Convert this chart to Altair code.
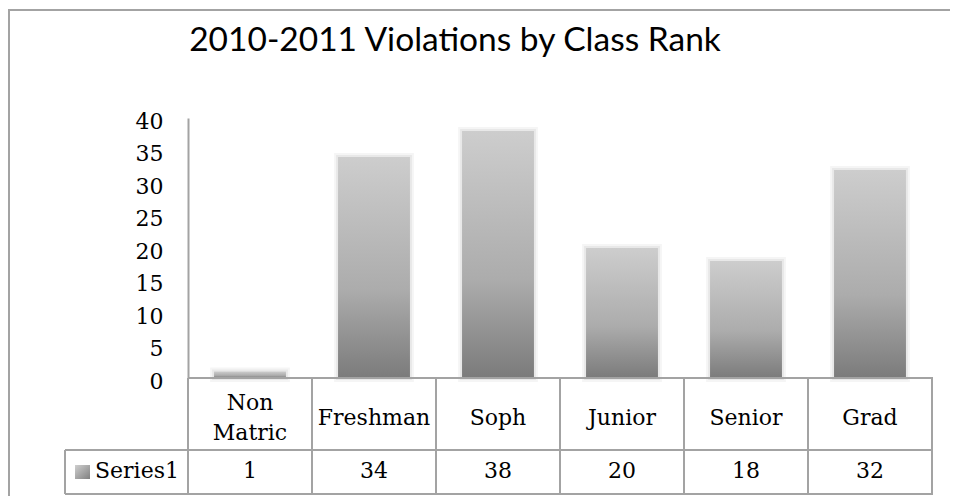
import altair as alt
import pandas as pd

# ---- data ----
categories = ["Non Matric", "Freshman", "Soph", "Junior", "Senior", "Grad"]
values = [1, 34, 38, 20, 18, 32]
series_name = "Series1"
chart_title = "2010-2011 Violations by Class Rank"
y_ticks = [0, 5, 10, 15, 20, 25, 30, 35, 40]

df = pd.DataFrame({"cat": categories, "value": values})
one = pd.DataFrame({"k": [0]})

SERIF = "DejaVu Serif"
LINE = "#a3a3a3"

grad = alt.LinearGradient(
    gradient="linear",
    stops=[
        alt.GradientStop(color="#cdcdcd", offset=0),
        alt.GradientStop(color="#acacac", offset=0.6),
        alt.GradientStop(color="#7b7b7b", offset=1),
    ],
    x1=0, x2=0, y1=0, y2=1,
)

xscale = alt.X("cat:N", sort=categories, axis=None,
               scale=alt.Scale(paddingInner=0.42, paddingOuter=0.21))
yenc = alt.Y("value:Q", scale=alt.Scale(domain=[0, 40], nice=False),
             axis=alt.Axis(values=y_ticks, title=None, grid=False, ticks=False,
                           domainColor=LINE, domainWidth=2,
                           labelFont=SERIF, labelFontSize=22, labelColor="black",
                           labelPadding=25, labelOffset=3))

shadow1 = alt.Chart(df).mark_bar(fill="#000000", fillOpacity=0, stroke="#000000",
                                 strokeOpacity=0.04, strokeWidth=8).encode(x=xscale, y=yenc)
shadow2 = alt.Chart(df).mark_bar(fill="#000000", fillOpacity=0, stroke="#000000",
                                 strokeOpacity=0.05, strokeWidth=4).encode(x=xscale, y=yenc)
bars = alt.Chart(df).mark_bar(color=grad).encode(x=xscale, y=yenc)

cat_text = alt.Chart(df).transform_calculate(
    lines="length(split(datum.cat, ' '))",
    ty="300 - (datum.lines - 1) * 15",
).mark_text(font=SERIF, fontSize=22, color="black",
            lineBreak=" ", lineHeight=30, baseline="middle").encode(
    x=xscale, y=alt.Y("ty:Q", scale=None), text="cat:N")

val_text = alt.Chart(df).mark_text(font=SERIF, fontSize=22, color="black",
                                   baseline="middle").encode(
    x=xscale, y=alt.value(353), text="value:Q")

# frame: only the top and left edges are inside the picture
frame_top = alt.Chart(one).mark_rule(color=LINE, strokeWidth=2).encode(
    x=alt.value(-179), x2=alt.value(900), y=alt.value(-108))
frame_left = alt.Chart(one).mark_rule(color=LINE, strokeWidth=2).encode(
    x=alt.value(-179), y=alt.value(-109), y2=alt.value(500))

# table lines
hlines = pd.DataFrame({"x": [0, -123, -123], "x2": [745, 745, 745], "y": [260, 332, 376]})
vlines = pd.DataFrame({"x": [0, 124, 248, 372, 496, 620, 744, -123],
                       "y": [260, 260, 260, 260, 260, 260, 260, 332],
                       "y2": [376, 376, 376, 376, 376, 376, 376, 376]})
h = alt.Chart(hlines).mark_rule(color=LINE, strokeWidth=2).encode(
    x=alt.X("x:Q", scale=None), x2="x2:Q", y=alt.Y("y:Q", scale=None))
v = alt.Chart(vlines).mark_rule(color=LINE, strokeWidth=2).encode(
    x=alt.X("x:Q", scale=None), y=alt.Y("y:Q", scale=None), y2="y2:Q")

# legend key in table
sq_grad = alt.LinearGradient(
    gradient="linear",
    stops=[alt.GradientStop(color="#cfcfcf", offset=0),
           alt.GradientStop(color="#808080", offset=1)],
    x1=0, x2=1, y1=0, y2=1,
)
key = alt.Chart(one).mark_rect(color=sq_grad).encode(
    x=alt.value(-113), x2=alt.value(-98), y=alt.value(347), y2=alt.value(361))
key_text = alt.Chart(pd.DataFrame({"s": [series_name]})).mark_text(
    font=SERIF, fontSize=22, color="black", align="left", baseline="middle").encode(
    x=alt.value(-93), y=alt.value(353), text="s:N")

title = alt.Chart(pd.DataFrame({"t": [chart_title]})).mark_text(
    font="Lato", fontSize=33.5, color="black", align="center",
    baseline="alphabetic").encode(
    x=alt.value(267), y=alt.value(-67), text="t:N")

chart = alt.layer(frame_top, frame_left, shadow1, shadow2, bars, h, v, cat_text, val_text,
                  key, key_text, title).resolve_scale(
    x="shared"
).properties(
    width=744, height=260,
    padding={"left": 180, "top": 110, "right": 18, "bottom": 118},
    autosize="none",
    background="white",
).configure_view(stroke=None)

chart.save("out.html", embed_options={"renderer": "svg", "actions": False})
